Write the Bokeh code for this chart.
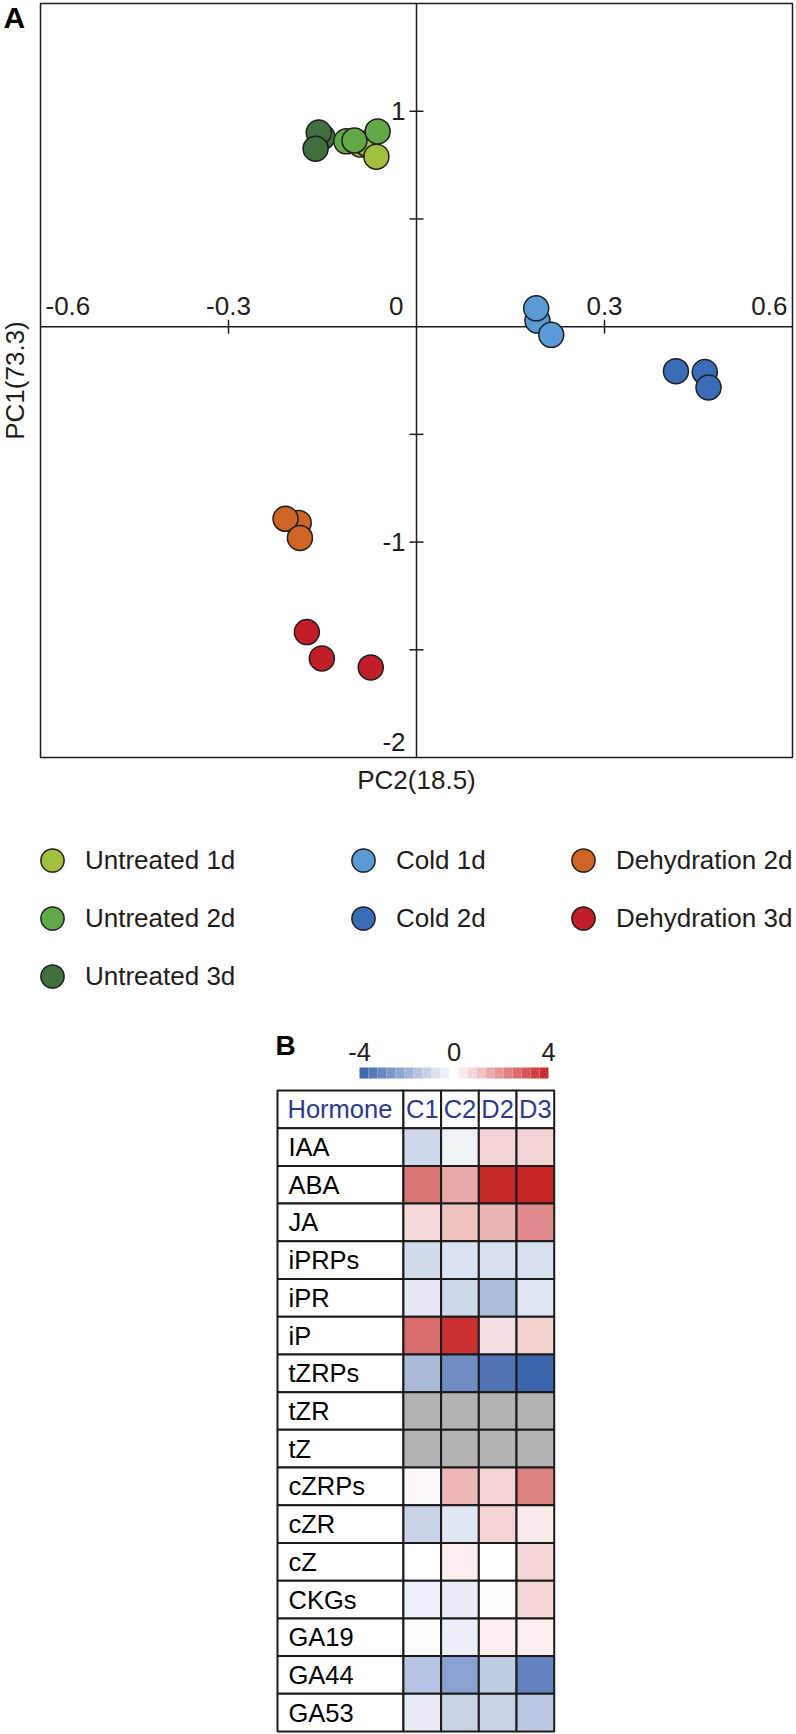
import numpy as np
from bokeh.plotting import figure
from bokeh.models import ColumnDataSource, Range1d, Legend, LegendItem, LinearColorMapper
from bokeh.layouts import column
from bokeh.core.properties import value
from bokeh.transform import transform
from bokeh.embed import file_html
from bokeh.resources import INLINE

FONT = "Liberation Sans"
INK = "#1f1c1d"

# ---------------- Panel A: PCA scores ----------------
groups = ["Untreated 1d", "Untreated 2d", "Untreated 3d", "Cold 1d", "Cold 2d",
          "Dehydration 2d", "Dehydration 3d"]
group_colors = ["#a0c13d", "#62a847", "#3f6f3d", "#5b9bd5", "#3b6cb7", "#cf6524", "#c01f27"]

u1_pc2 = [-0.089, -0.080, -0.064]
u1_pc1 = [0.845, 0.850, 0.789]
u2_pc2 = [-0.112, -0.099, -0.062]
u2_pc1 = [0.860, 0.864, 0.906]
u3_pc2 = [-0.150, -0.156, -0.161]
u3_pc1 = [0.880, 0.901, 0.826]
c1_pc2 = [0.193, 0.191, 0.215]
c1_pc1 = [0.028, 0.085, -0.038]
c2_pc2 = [0.414, 0.460, 0.466]
c2_pc1 = [-0.207, -0.211, -0.282]
d2_pc2 = [-0.188, -0.209, -0.186]
d2_pc1 = [-0.911, -0.892, -0.981]
d3_pc2 = [-0.175, -0.151, -0.073]
d3_pc1 = [-1.418, -1.540, -1.582]

series_pc2 = [u1_pc2, u2_pc2, u3_pc2, c1_pc2, c2_pc2, d2_pc2, d3_pc2]
series_pc1 = [u1_pc1, u2_pc1, u3_pc1, c1_pc1, c2_pc1, d2_pc1, d3_pc1]
draw_order = [2, 0, 1, 3, 4, 5, 6]

PC2_MIN, PC2_MAX = -0.6, 0.6
PC1_MIN, PC1_MAX = -2.0, 1.5
x_tick_marks = [-0.3, 0.3]
y_tick_marks = [1, 0.5, -0.5, -1, -1.5]
x_tick_vals = [-0.6, -0.3, 0, 0.3, 0.6]
x_tick_text = ["-0.6", "-0.3", "0", "0.3", "0.6"]
y_tick_vals = [1, -1, -2]
y_tick_text = ["1", "-1", "-2"]

# layout of panel A in pixels (box of the PCA plot inside the canvas)
W_A, H_A = 796, 1005
BOX_L, BOX_R, BOX_T, BOX_B = 40, 792, 3, 757
sx = (BOX_R - BOX_L) / (PC2_MAX - PC2_MIN)
sy = (BOX_B - BOX_T) / (PC1_MAX - PC1_MIN)
xr = Range1d(PC2_MIN - BOX_L / sx, PC2_MAX + (W_A - BOX_R) / sx)
yr = Range1d(PC1_MIN - (H_A - BOX_B) / sy, PC1_MAX + BOX_T / sy)


def up(px):
    """vertical pixel distance expressed in PC1 units"""
    return px / sy


pA = figure(width=W_A, height=H_A, x_range=xr, y_range=yr, x_axis_location=None,
            y_axis_location=None, toolbar_location=None, output_backend="svg",
            min_border=0, outline_line_color=None)
pA.grid.visible = False

# plot box and axes through the origin
pA.quad(left=[PC2_MIN], right=[PC2_MAX], bottom=[PC1_MIN], top=[PC1_MAX],
        fill_color=None, line_color=INK, line_width=1.5)
pA.segment(x0=[PC2_MIN], x1=[PC2_MAX], y0=[0], y1=[0], line_color=INK, line_width=1.5)
pA.segment(x0=[0], x1=[0], y0=[PC1_MIN], y1=[PC1_MAX], line_color=INK, line_width=1.5)
pA.scatter(x=x_tick_marks, y=[0] * len(x_tick_marks), marker="dash", angle=np.pi / 2,
           size=14, line_color=INK, line_width=1.5)
pA.scatter(x=[0] * len(y_tick_marks), y=y_tick_marks, marker="dash", size=14,
           line_color=INK, line_width=1.5)

tick_style = dict(text_font=value(FONT), text_font_size="26px", text_color=INK,
                  text_baseline="middle")
ly = up(21)
pA.text(x=x_tick_vals[:1], y=[ly], text=x_tick_text[:1], text_align="left",
        x_offset=5, **tick_style)
pA.text(x=x_tick_vals[1::2], y=[ly, ly], text=x_tick_text[1::2], text_align="center",
        **tick_style)
pA.text(x=x_tick_vals[2:3], y=[ly], text=x_tick_text[2:3], text_align="right",
        x_offset=-13, **tick_style)
pA.text(x=x_tick_vals[4:], y=[ly], text=x_tick_text[4:], text_align="right",
        x_offset=-5, **tick_style)
pA.text(x=[0, 0], y=y_tick_vals[:2], text=y_tick_text[:2], text_align="right",
        x_offset=-11, **tick_style)
pA.text(x=[0], y=[y_tick_vals[2] + up(16)], text=y_tick_text[2:], text_align="right",
        x_offset=-11, **tick_style)

# axis titles and panel letter
pA.text(x=[(PC2_MIN + PC2_MAX) / 2], y=[PC1_MIN - up(22)], text=["PC2(18.5)"],
        text_align="center", **tick_style)
pA.text(x=[PC2_MIN], y=[(PC1_MIN + PC1_MAX) / 2], text=["PC1(73.3)"], angle=np.pi / 2,
        text_align="center", x_offset=-26, **tick_style)
pA.text(x=[PC2_MIN], y=[PC1_MAX - up(13.5)], text=["A"], text_align="left",
        text_baseline="middle", x_offset=-37, text_font=value(FONT), text_font_size="30px",
        text_font_style="bold", text_color="#000000")

renderers = [None] * len(groups)
for gi in draw_order:
    renderers[gi] = pA.scatter(x=series_pc2[gi], y=series_pc1[gi], size=25,
                               fill_color=group_colors[gi], line_color="#1e1e1e",
                               line_width=1.5)

legend_columns = [([0, 1, 2], (23, 0)), ([3, 4], (334, 58)), ([5, 6], (554, 58))]
for idxs, loc in legend_columns:
    lg = Legend(items=[LegendItem(label=groups[i], renderers=[renderers[i]]) for i in idxs],
                location=loc, orientation="vertical", glyph_width=58, glyph_height=58,
                label_standoff=4, spacing=0, padding=0, margin=0, border_line_color=None,
                background_fill_alpha=0, label_text_font=FONT, label_text_font_size="26px",
                label_text_color=INK)
    pA.add_layout(lg)

# ---------------- Panel B: hormone heatmap ----------------
hormones = ["IAA", "ABA", "JA", "iPRPs", "iPR", "iP", "tZRPs", "tZR", "tZ", "cZRPs",
            "cZR", "cZ", "CKGs", "GA19", "GA44", "GA53"]
conditions = ["C1", "C2", "D2", "D3"]
nan = float("nan")
C1 = [-1.0, 2.5, 0.7, -0.9, -0.55, 2.7, -1.75, nan, nan, 0.1, -1.1, 0.0, -0.35, -0.05, -1.5, -0.5]
C2 = [-0.3, 1.6, 1.1, -0.7, -1.0, 3.8, -2.9, nan, nan, 1.3, -0.65, 0.3, -0.45, -0.4, -2.4, -1.1]
D2 = [0.8, 3.9, 1.35, -0.8, -1.7, 0.55, -3.6, nan, nan, 0.8, 0.8, 0.0, 0.05, 0.3, -1.3, -1.1]
D3 = [0.8, 4.0, 2.1, -0.8, -0.6, 0.85, -3.95, nan, nan, 2.3, 0.35, 0.75, 0.75, 0.3, -3.2, -1.4]
cond_values = [C1, C2, D2, D3]
scale_ticks = [-4, 0, 4]
scale_text = ["-4", "0", "4"]

BLUE_END = (59, 99, 173)
RED_END = (198, 37, 38)


def mix(c, t):
    return "#%02x%02x%02x" % tuple(int(round(255 + (ci - 255) * t)) for ci in c)


palette = ([mix(BLUE_END, 1 - k / 100) for k in range(100)] + ["#ffffff"]
           + [mix(RED_END, k / 100) for k in range(1, 101)])
mapper = LinearColorMapper(palette=palette, low=-4, high=4, nan_color="#b3b3b3")

W_B, H_B = 796, 729
CELL_W = 37.7        # px per data column
ROW_H = 641 / 17     # px per table row
LABEL_W = 3.34       # label column width, in data-column units
TABLE_LEFT = 277     # px from canvas left
TABLE_TOP = 85       # px from canvas top
x0 = -LABEL_W - TABLE_LEFT / CELL_W
y1 = 1 + TABLE_TOP / ROW_H

pB = figure(width=W_B, height=H_B, x_range=Range1d(x0, x0 + W_B / CELL_W),
            y_range=Range1d(y1 - H_B / ROW_H, y1), x_axis_location=None,
            y_axis_location=None, toolbar_location=None, output_backend="svg",
            min_border=0, outline_line_color=None)
pB.grid.visible = False

# colour scale: -4..4 spans canvas x 359..548
CB_L, CB_R = 359, 548
CB_PX = (CB_R - CB_L) / 8
cb_left = -4 - CB_L / CB_PX
pB.extra_x_ranges = {"cbar": Range1d(cb_left, cb_left + W_B / CB_PX)}

n_steps = 21
cb_vals = [-4 + (k + 0.5) * 8 / n_steps for k in range(n_steps)]
cb_src = ColumnDataSource(dict(x=cb_vals, v=cb_vals))
pB.rect(x="x", y=1.464, width=8 / n_steps, height=0.292, source=cb_src,
        x_range_name="cbar", fill_color=transform("v", mapper), line_color=None)
pB.text(x=scale_ticks, y=[2.008] * 3, text=scale_text, x_range_name="cbar",
        text_align="center", text_baseline="middle", text_font=value(FONT),
        text_font_size="25.5px", text_color=INK)

cell_x, cell_y, cell_v = [], [], []
for j, vals in enumerate(cond_values):
    for i, v in enumerate(vals):
        cell_x.append(j + 0.5)
        cell_y.append(-i - 0.5)
        cell_v.append(v)
heat = ColumnDataSource(dict(x=cell_x, y=cell_y, v=np.array(cell_v, dtype=float)))

LINE = "#1a1a1a"
row_y = [0.5] + [-i - 0.5 for i in range(len(hormones))]
pB.rect(x=[-LABEL_W / 2] * len(row_y), y=row_y, width=LABEL_W, height=1,
        fill_color="white", line_color=LINE, line_width=2)
pB.rect(x=[j + 0.5 for j in range(len(conditions))], y=[0.5] * len(conditions), width=1,
        height=1, fill_color="white", line_color=LINE, line_width=2)
pB.rect(x="x", y="y", width=1, height=1, source=heat, fill_color=transform("v", mapper),
        line_color=LINE, line_width=2)

pB.text(x=[-LABEL_W] * len(hormones), y=row_y[1:], text=hormones, x_offset=11,
        text_align="left", text_baseline="middle", text_font=value(FONT),
        text_font_size="25.5px", text_color="#000000")
HEAD = "#2b3a8c"
pB.text(x=[-LABEL_W], y=[0.5], text=["Hormone"], x_offset=10, text_align="left",
        text_baseline="middle", text_font=value(FONT), text_font_size="25.5px",
        text_color=HEAD)
pB.text(x=[j + 0.5 for j in range(len(conditions))], y=[0.5] * len(conditions),
        text=conditions, text_align="center", text_baseline="middle", text_font=value(FONT),
        text_font_size="25.5px", text_color=HEAD)
pB.text(x=[-LABEL_W], y=[2.193], text=["B"], x_offset=-2, text_align="left",
        text_baseline="middle", text_font=value(FONT), text_font_size="28px",
        text_font_style="bold", text_color="#000000")

layout = column(pA, pB, spacing=0)
open("out.html", "w").write(file_html(layout, INLINE))
